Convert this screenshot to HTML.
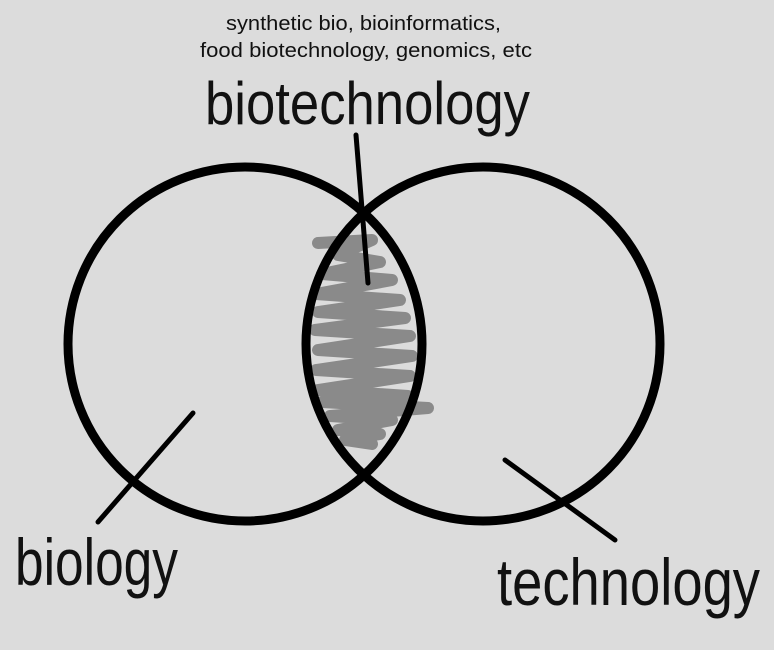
<!DOCTYPE html>
<html><head><meta charset="utf-8"><style>
html,body{margin:0;padding:0;background:#dcdcdc;}
svg{display:block;}
text{font-family:"Liberation Sans",sans-serif;fill:#111;}
</style></head><body>
<svg width="774" height="650" viewBox="0 0 774 650">
  <rect x="0" y="0" width="774" height="650" fill="#dcdcdc"/>
  <polyline fill="none" stroke="#8a8a8a" stroke-width="12" stroke-linecap="round" stroke-linejoin="round"
    points="318,243 372,240 338,255 380,262 322,274 392,280 316,294 400,300 318,312 405,318 315,330 410,336 318,350 412,356 316,370 410,376 318,390 408,396 322,402 428,408 330,416 392,420 338,430 380,434 345,440 372,444"/>
  <circle cx="245" cy="344" r="177" fill="none" stroke="#000" stroke-width="9"/>
  <circle cx="483" cy="344" r="177" fill="none" stroke="#000" stroke-width="9"/>
  <line x1="356" y1="135" x2="368" y2="283" stroke="#000" stroke-width="5" stroke-linecap="round"/>
  <line x1="193" y1="413" x2="98" y2="522" stroke="#000" stroke-width="5" stroke-linecap="round"/>
  <line x1="505" y1="460" x2="615" y2="540" stroke="#000" stroke-width="5" stroke-linecap="round"/>
  <text x="226" y="30" font-size="20" textLength="275" lengthAdjust="spacingAndGlyphs">synthetic bio, bioinformatics,</text>
  <text x="200" y="57" font-size="20" textLength="332" lengthAdjust="spacingAndGlyphs">food biotechnology, genomics, etc</text>
  <text x="205" y="124" font-size="60" textLength="325" lengthAdjust="spacingAndGlyphs">biotechnology</text>
  <text x="15" y="585" font-size="66" textLength="163" lengthAdjust="spacingAndGlyphs">biology</text>
  <text x="497" y="605" font-size="66" textLength="263" lengthAdjust="spacingAndGlyphs">technology</text>
</svg>
</body></html>
